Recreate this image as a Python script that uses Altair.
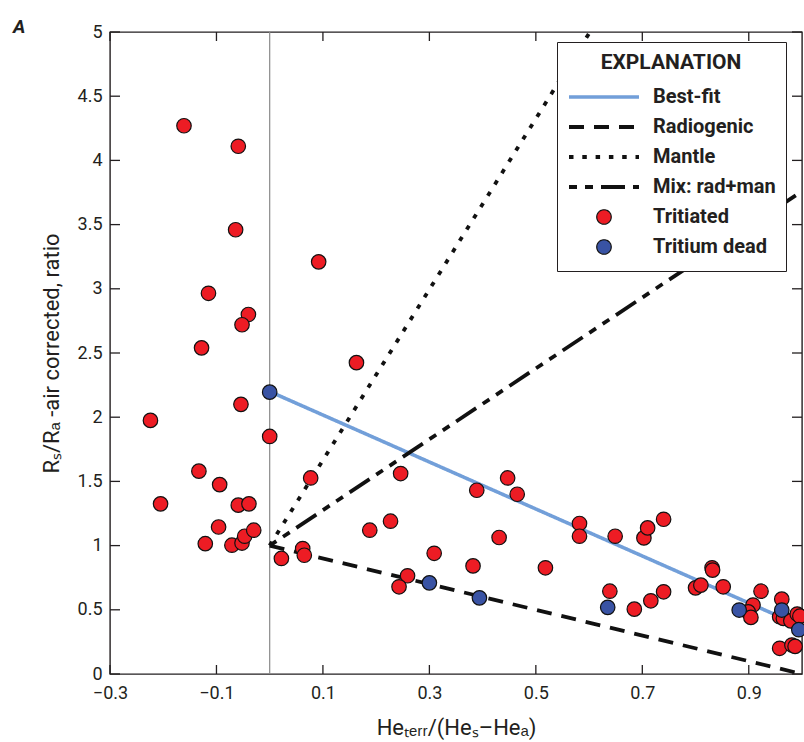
import altair as alt
import pandas as pd

# ---------------- data ----------------
trit_x = [-0.161, -0.059, -0.064, -0.115, -0.040, -0.052, -0.128, -0.224, -0.054, 0.000,
          -0.133, -0.094, -0.205, -0.059, -0.039, -0.096, -0.121, -0.071, -0.052, -0.047,
          -0.030,
          0.092, 0.163, 0.077, 0.246, 0.188, 0.227, 0.309, 0.022, 0.062, 0.065, 0.259,
          0.243, 0.382, 0.389, 0.447, 0.465, 0.431, 0.518, 0.582, 0.582, 0.649, 0.703,
          0.710, 0.740, 0.639, 0.685, 0.716, 0.740, 0.831, 0.832, 0.800, 0.810, 0.852,
          0.923, 0.908, 0.899, 0.904, 0.962, 0.958, 0.965, 0.979, 0.991, 0.996, 0.958,
          0.981, 0.987]
trit_y = [4.27, 4.11, 3.46, 2.965, 2.80, 2.72, 2.54, 1.975, 2.10, 1.85,
          1.58, 1.475, 1.325, 1.315, 1.325, 1.145, 1.015, 1.003, 1.02, 1.073,
          1.12,
          3.21, 2.425, 1.527, 1.561, 1.12, 1.19, 0.94, 0.90, 0.977, 0.925, 0.765,
          0.679, 0.842, 1.431, 1.527, 1.40, 1.063, 0.827, 1.172, 1.073, 1.073, 1.06,
          1.138, 1.205, 0.645, 0.505, 0.57, 0.64, 0.827, 0.809, 0.671, 0.692, 0.679,
          0.645, 0.537, 0.484, 0.441, 0.583, 0.446, 0.433, 0.414, 0.467, 0.45, 0.20,
          0.2255, 0.215]

dead_x = [0.000, 0.300, 0.394, 0.635, 0.882, 0.962, 0.994]
dead_y = [2.195, 0.710, 0.593, 0.519, 0.498, 0.498, 0.345]

series_names = ["Best-fit", "Radiogenic", "Mantle", "Mix: rad+man", "Tritiated", "Tritium dead"]

line_series = ["Best-fit", "Best-fit", "Radiogenic", "Radiogenic",
               "Mantle", "Mantle", "Mix: rad+man", "Mix: rad+man"]
line_x = [0.0, 0.97, 0.0, 1.0, 0.0, 1.0, 0.0, 1.0]
line_y = [2.2, 0.425, 1.0, 0.0, 1.0, 7.65, 1.0, 3.76]

zero_x = [0.0]
zero_y0 = [0.0]
zero_y1 = [5.0]

x_ticks = [-0.3, -0.1, 0.1, 0.3, 0.5, 0.7, 0.9]
y_ticks = [0, 0.5, 1, 1.5, 2, 2.5, 3, 3.5, 4, 4.5, 5]

# ---------------- styling ----------------
FONT = "Roboto, Liberation Sans, sans-serif"
TXT = "#231f20"
W, H = 692, 642

pts_df = pd.DataFrame({
    "x": trit_x + dead_x,
    "y": trit_y + dead_y,
    "series": ["Tritiated"] * len(trit_x) + ["Tritium dead"] * len(dead_x),
})
line_df = pd.DataFrame({"x": line_x, "y": line_y, "series": line_series})
zero_df = pd.DataFrame({"x": zero_x, "y": zero_y0, "y1": zero_y1})
xt_df = pd.DataFrame({"x": x_ticks})
yt_df = pd.DataFrame({"y": y_ticks})

xs = alt.Scale(domain=[-0.3, 1.0], nice=False, zero=False)
ys = alt.Scale(domain=[0, 5], nice=False, zero=False)

x_title = "He\u209c\u2091\u1d63\u1d63/(He\u209b\u2013He\u2090)"
y_title = "R\u209b/R\u2090 -air corrected, ratio"

x_axis = alt.Axis(values=x_ticks, format=".1f", title=x_title, orient="bottom",
                  domain=False, ticks=False, tickSize=0, grid=False, labelPadding=10,
                  labelFlush=False, labelOverlap=False, titleY=60, titleBaseline="alphabetic")
y_axis = alt.Axis(values=y_ticks, format=".1~f", title=y_title, orient="left",
                  domain=False, ticks=False, tickSize=0, grid=False, labelPadding=8,
                  labelFlush=False, labelOverlap=False, titleX=-52, titleY=H / 2,
                  titleBaseline="alphabetic", titleAlign="center")

X = alt.X("x:Q", scale=xs, axis=x_axis)
Y = alt.Y("y:Q", scale=ys, axis=y_axis)

stroke_range = ["#729fd9", "#111111", "#111111", "#111111", "#111111", "#111111"]
fill_range = ["transparent", "transparent", "transparent", "transparent", "#ed1c24", "#3953a4"]
dash_range = [[1, 0], [15, 10], [4.5, 8.8], [8, 8, 8, 8, 24, 8], [1, 0], [1, 0]]
width_range = [3.6, 3.8, 3.8, 3.8, 1.2, 1.2]
shape_range = ["stroke", "stroke", "stroke", "stroke", "circle", "circle"]
size_range = [4900, 4900, 4900, 4900, 210, 210]

leg = alt.Legend(title="EXPLANATION", orient="none", legendX=447, legendY=10)

zero_rule = alt.Chart(zero_df).mark_rule(color="#8a8a8a", strokeWidth=1.2).encode(
    x=X, y=Y, y2="y1:Q",
)

lines = alt.Chart(line_df).mark_line(clip=True).encode(
    x=X, y=Y,
    stroke=alt.Stroke("series:N", scale=alt.Scale(domain=series_names, range=stroke_range), legend=leg),
    strokeDash=alt.StrokeDash("series:N", scale=alt.Scale(domain=series_names, range=dash_range), legend=leg),
    strokeWidth=alt.StrokeWidth("series:N", scale=alt.Scale(type="ordinal", domain=series_names, range=width_range), legend=leg),
)

tick_style = dict(color=TXT, strokeWidth=1.3)
bottom_ticks = alt.Chart(xt_df).mark_rule(**tick_style).encode(
    x=X, y=alt.value(H), y2=alt.value(H - 9))
top_ticks = alt.Chart(xt_df).mark_rule(**tick_style).encode(
    x=X, y=alt.value(0), y2=alt.value(9))
left_ticks = alt.Chart(yt_df).mark_rule(**tick_style).encode(
    y=Y, x=alt.value(0), x2=alt.value(10))
right_ticks = alt.Chart(yt_df).mark_rule(**tick_style).encode(
    y=Y, x=alt.value(W), x2=alt.value(W - 10))

points = alt.Chart(pts_df).mark_point(filled=True, opacity=1).encode(
    x=X, y=Y,
    fill=alt.Fill("series:N", scale=alt.Scale(domain=series_names, range=fill_range), legend=leg),
    stroke=alt.Stroke("series:N", scale=alt.Scale(domain=series_names, range=stroke_range), legend=leg),
    shape=alt.Shape("series:N", scale=alt.Scale(domain=series_names, range=shape_range), legend=leg),
    size=alt.Size("series:N", scale=alt.Scale(type="ordinal", domain=series_names, range=size_range), legend=leg),
    strokeWidth=alt.StrokeWidth("series:N", scale=alt.Scale(type="ordinal", domain=series_names, range=width_range), legend=leg),
)

chart = alt.layer(
    zero_rule, lines, bottom_ticks, top_ticks, left_ticks, right_ticks, points
).properties(
    width=W, height=H,
    autosize=alt.AutoSizeParams(type="none"),
    padding={"left": 110, "top": 32, "right": 2, "bottom": 68},
    title=alt.TitleParams(text="A", anchor="start", frame="group", dx=-97, dy=30, offset=1,
                          baseline="alphabetic", font=FONT, fontSize=19,
                          fontStyle="italic", fontWeight="bold", color=TXT),
).configure_view(
    stroke=TXT, strokeWidth=1.4
).configure_axis(
    labelFont=FONT, labelFontSize=18, labelColor=TXT,
    titleFont=FONT, titleFontSize=22, titleColor=TXT, titleFontWeight="normal",
).configure_legend(
    titleFont=FONT, titleFontSize=21, titleFontWeight="bold", titleColor=TXT,
    titleAnchor="middle", titlePadding=10,
    labelFont=FONT, labelFontSize=20, labelFontWeight="bold", labelColor=TXT,
    labelOffset=12, labelLimit=400, padding=10, rowPadding=2, clipHeight=28,
    strokeColor=TXT, fillColor="white",
    symbolFillColor="transparent", symbolStrokeColor=TXT,
)

chart.save("out.html", embed_options={"renderer": "svg", "actions": False})
